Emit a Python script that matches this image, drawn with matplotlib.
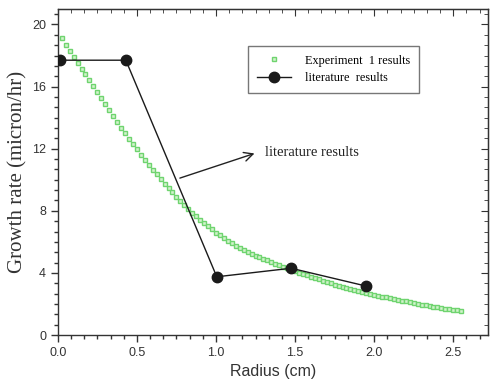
import numpy as np
import matplotlib.pyplot as plt
from matplotlib.ticker import MultipleLocator, AutoMinorLocator

# experiment 1 (green squares)
exp_r = [0.025, 0.05, 0.075, 0.10, 0.125, 0.15, 0.175, 0.20, 0.225, 0.25,
         0.275, 0.30, 0.325, 0.35, 0.375, 0.40, 0.425, 0.45, 0.475, 0.50,
         0.525, 0.55, 0.575, 0.60, 0.625, 0.65, 0.675, 0.70, 0.725, 0.75,
         0.775, 0.80, 0.825, 0.85, 0.875, 0.90, 0.925, 0.95, 0.975, 1.00,
         1.025, 1.05, 1.075, 1.10, 1.125, 1.15, 1.175, 1.20, 1.225, 1.25,
         1.275, 1.30, 1.325, 1.35, 1.375, 1.40, 1.425, 1.45, 1.475, 1.50,
         1.525, 1.55, 1.575, 1.60, 1.625, 1.65, 1.675, 1.70, 1.725, 1.75,
         1.775, 1.80, 1.825, 1.85, 1.875, 1.90, 1.925, 1.95, 1.975, 2.00,
         2.025, 2.05, 2.075, 2.10, 2.125, 2.15, 2.175, 2.20, 2.225, 2.25,
         2.275, 2.30, 2.325, 2.35, 2.375, 2.40, 2.425, 2.45, 2.475, 2.50,
         2.525, 2.55]
exp_rate = [19.1, 18.7, 18.3, 17.9, 17.52, 17.15, 16.78, 16.4, 16.01, 15.62,
            15.24, 14.85, 14.48, 14.1, 13.72, 13.35, 13.0, 12.65, 12.3, 11.95,
            11.62, 11.3, 10.98, 10.65, 10.35, 10.05, 9.75, 9.45, 9.18, 8.9,
            8.62, 8.35, 8.11, 7.88, 7.64, 7.4, 7.2, 7.0, 6.8, 6.6,
            6.42, 6.25, 6.08, 5.9, 5.76, 5.62, 5.49, 5.35, 5.24, 5.12,
            5.01, 4.9, 4.8, 4.7, 4.6, 4.5, 4.4, 4.3, 4.2, 4.1,
            4.01, 3.92, 3.84, 3.75, 3.66, 3.58, 3.49, 3.4, 3.32, 3.24,
            3.16, 3.08, 3.02, 2.95, 2.89, 2.82, 2.76, 2.71, 2.65, 2.6,
            2.54, 2.48, 2.43, 2.37, 2.32, 2.26, 2.21, 2.16, 2.11, 2.06,
            2.01, 1.96, 1.92, 1.87, 1.83, 1.78, 1.74, 1.7, 1.66, 1.62,
            1.58, 1.54]

# literature (black dots)
lit_r = [0.015, 0.43, 1.005, 1.475, 1.95]
lit_rate = [17.7, 17.7, 3.75, 4.3, 3.15]

serif = 'Liberation Serif'
sans = 'Liberation Sans'

fig = plt.figure(figsize=(4.9, 3.9), dpi=100)
ax = fig.add_axes([0.118, 0.141, 0.878, 0.836])

ax.plot(exp_r, exp_rate, 's', ms=3.4, mfc='#d2f3cc', mec='#6fd46f', mew=1.0,
        ls='none', label='Experiment  1 results', zorder=2)
ax.plot(lit_r, lit_rate, '-o', color='#1a1a1a', lw=1.0, ms=7.5,
        label='literature  results', zorder=3)

ax.annotate('', xy=(1.26, 11.75), xytext=(0.755, 10.05),
            arrowprops=dict(arrowstyle='->', color='#222222', lw=1.0,
                            mutation_scale=16))
ax.text(1.31, 11.75, 'literature results', fontsize=10.5, family=serif,
        color='#222222', va='center', ha='left')

ax.set_xlim(0, 2.72)
ax.set_ylim(0, 21)
ax.xaxis.set_major_locator(MultipleLocator(0.5))
ax.xaxis.set_minor_locator(AutoMinorLocator(6))
ax.yaxis.set_major_locator(MultipleLocator(4))
ax.yaxis.set_minor_locator(AutoMinorLocator(6))
ax.xaxis.set_major_formatter(plt.FormatStrFormatter('%.1f'))
ax.tick_params(which='both', direction='out', colors='#333333',
               labelsize=9, width=1)
ax.tick_params(which='major', length=5)
ax.tick_params(which='minor', length=3)
for lab in ax.get_xticklabels() + ax.get_yticklabels():
    lab.set_family(sans)
for sp in ax.spines.values():
    sp.set_color('#333333')
    sp.set_linewidth(1.0)

# inward ticks on top and right
top = ax.secondary_xaxis('top')
top.xaxis.set_major_locator(MultipleLocator(0.5))
top.xaxis.set_minor_locator(AutoMinorLocator(6))
top.tick_params(which='both', direction='in', labeltop=False, colors='#333333')
top.tick_params(which='major', length=5)
top.tick_params(which='minor', length=3)
right = ax.secondary_yaxis('right')
right.yaxis.set_major_locator(MultipleLocator(4))
right.yaxis.set_minor_locator(AutoMinorLocator(6))
right.tick_params(which='both', direction='in', labelright=False, colors='#333333')
right.tick_params(which='major', length=5)
right.tick_params(which='minor', length=3)

ax.set_xlabel('Radius (cm)', family=sans, fontsize=11.5, color='#333333',
              labelpad=4)
ax.set_ylabel('Growth rate (micron/hr)', family=serif, fontsize=15,
              color='#333333', labelpad=3)

leg = ax.legend(loc='upper left', bbox_to_anchor=(0.442, 0.886),
                prop={'family': serif, 'size': 8.8}, frameon=True,
                fancybox=False, edgecolor='#555555', borderpad=0.7,
                handlelength=2.8, handletextpad=1.2, labelspacing=0.45,
                borderaxespad=0)
leg.get_frame().set_linewidth(1.0)

fig.savefig('out.png', dpi=100)
